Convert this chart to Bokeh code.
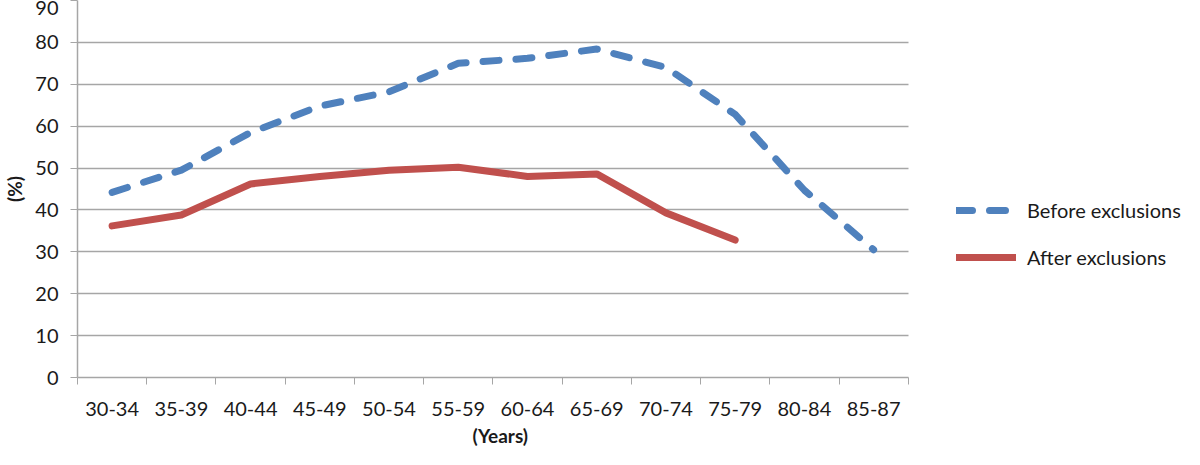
from bokeh.plotting import figure
from bokeh.models import FixedTicker, Legend, LegendItem, ColumnDataSource, Title
from bokeh.embed import file_html
from bokeh.resources import INLINE

categories = ["30-34", "35-39", "40-44", "45-49", "50-54", "55-59",
              "60-64", "65-69", "70-74", "75-79", "80-84", "85-87"]
before_exclusions = [44.2, 49.5, 58.5, 64.8, 68.2, 75.0, 76.2, 78.4, 74.0, 62.8, 44.7, 30.5]
after_exclusions = [36.2, 38.8, 46.2, 48.0, 49.5, 50.2, 48.0, 48.6, 39.3, 32.8]
y_ticks = [0, 10, 20, 30, 40, 50, 60, 70, 80, 90]

FONT = "Lato"
GRID = "#A6A6A6"

n = len(categories)
# category centres on a numeric axis (category i occupies [i, i+1])
centres = [i + 0.5 for i in range(n)]
boundaries = list(range(n + 1))

# the frame also covers the legend area on the right; axis and grid are bounded to the categories
p = figure(width=1184, height=449, output_backend="svg", toolbar_location=None,
           x_range=(0, n * 1114 / 836), y_range=(0, 90),
           min_border_left=70, min_border_right=0, min_border_top=0,
           min_border_bottom=0)
p.outline_line_color = None
p.background_fill_color = "white"
p.border_fill_color = "white"

src_b = ColumnDataSource(dict(x=centres, y=before_exclusions))
src_a = ColumnDataSource(dict(x=centres[:len(after_exclusions)], y=after_exclusions))

r_b = p.line("x", "y", source=src_b, line_color="#4F81BD", line_width=7,
             line_dash="16 17", line_cap="round", line_join="round")
r_a = p.line("x", "y", source=src_a, line_color="#C0504D", line_width=7,
             line_cap="round", line_join="round")

# x axis: labels at centres, tick marks at boundaries (minor ticks)
xa = p.xaxis[0]
xa.bounds = (0, n)
xa.ticker = FixedTicker(ticks=centres, minor_ticks=boundaries)
xa.major_label_overrides = {c: lab for c, lab in zip(centres, categories)}
xa.major_tick_out = 0
xa.major_tick_in = 0
xa.minor_tick_out = 7
xa.minor_tick_in = 0
xa.minor_tick_line_color = GRID
xa.axis_line_color = GRID
xa.axis_line_width = 1.5
xa.major_label_standoff = 17
xa.major_label_text_font = FONT
xa.major_label_text_font_size = "20px"
xa.major_label_text_color = "#1a1a1a"

# x axis title, centred under the category area
p.add_layout(Title(text="(Years)", align="left", offset=395, standoff=6,
                   text_font=FONT, text_font_style="bold", text_font_size="19px",
                   text_color="#1a1a1a"), "below")

ya = p.yaxis[0]
ya.ticker = FixedTicker(ticks=y_ticks, minor_ticks=[])
ya.major_tick_out = 7
ya.major_tick_in = 0
ya.major_tick_line_color = GRID
ya.axis_line_color = GRID
ya.axis_line_width = 1.5
ya.major_label_standoff = 12
ya.major_label_text_font = FONT
ya.major_label_text_font_size = "20px"
ya.major_label_text_color = "#1a1a1a"
ya.axis_label = "(%)"
ya.axis_label_text_font = FONT
ya.axis_label_text_font_style = "bold"
ya.axis_label_text_font_size = "19px"
ya.axis_label_standoff = 6
ya.axis_label_text_color = "#1a1a1a"

p.xgrid.grid_line_color = None
p.ygrid.ticker = FixedTicker(ticks=y_ticks)
p.ygrid.cross_bounds = (0, n)
p.ygrid.grid_line_color = GRID
p.ygrid.grid_line_width = 1.5

legend = Legend(items=[LegendItem(label="Before exclusions", renderers=[r_b]),
                       LegendItem(label="After exclusions", renderers=[r_a])],
                location=(879, 108))
legend.padding = 0
legend.margin = 0
legend.spacing = 23
legend.glyph_width = 60
legend.glyph_height = 20
legend.label_standoff = 11
legend.label_text_font = FONT
legend.label_text_font_size = "20px"
legend.label_text_color = "#1a1a1a"
legend.border_line_alpha = 0
legend.background_fill_alpha = 0
p.add_layout(legend, "center")

open("out.html", "w").write(file_html(p, INLINE))
